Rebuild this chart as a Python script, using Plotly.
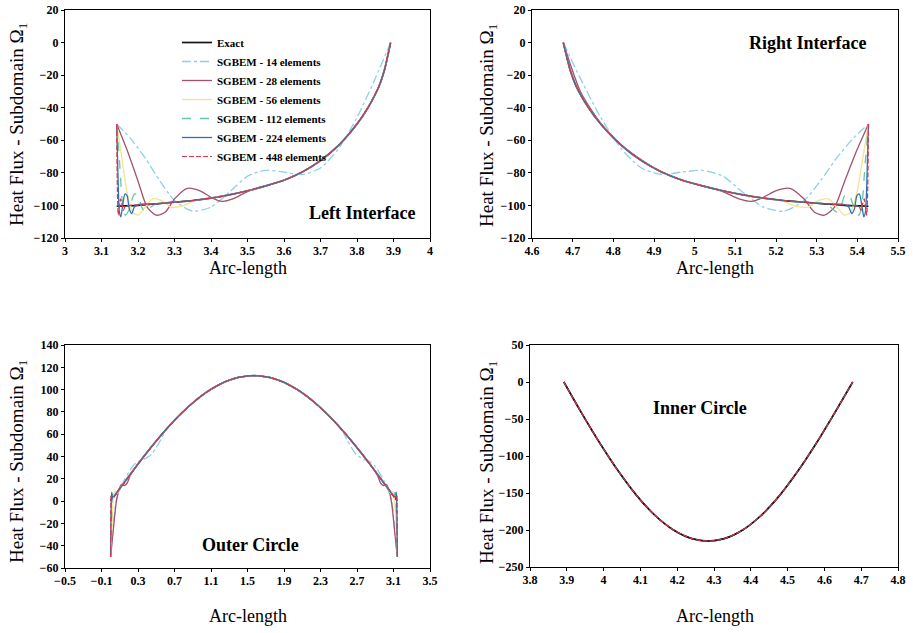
import plotly.graph_objects as go

W, H = 913, 633

# ---------------- DATA ----------------
NAMES = ["Exact", "SGBEM - 14 elements", "SGBEM - 28 elements", "SGBEM - 56 elements",
         "SGBEM - 112 elements", "SGBEM - 224 elements", "SGBEM - 448 elements"]

# Left interface
L_tail_x = [3.55, 3.6, 3.65, 3.7, 3.75, 3.8, 3.83, 3.86, 3.875, 3.892]
L_tail_y = [-88, -84.5, -79.5, -72.5, -63, -50, -40, -27, -17, 0]
L_exact_x = [3.1416, 3.2, 3.25, 3.3, 3.35, 3.4, 3.45, 3.5]
L_exact_y = [-100.5, -100, -99, -98, -97, -95.5, -93.5, -91]
L14_x = [3.1416, 3.18, 3.22, 3.26, 3.3, 3.35, 3.4, 3.45, 3.5, 3.55, 3.6, 3.65, 3.7, 3.75, 3.8, 3.85, 3.892]
L14_y = [-50, -59, -71, -85, -97, -103.5, -101, -92, -82, -78.5, -79.5, -81, -77, -65, -46, -22, 0]
L28_x = [3.1416, 3.17, 3.2, 3.225, 3.25, 3.275, 3.3, 3.335, 3.37, 3.4, 3.43, 3.46, 3.5]
L28_y = [-50, -66, -85, -101, -106, -104, -96, -89.5, -91, -95, -97.5, -96, -91.5]
L56_x = [3.1416, 3.155, 3.17, 3.185, 3.2, 3.22, 3.24, 3.265, 3.29, 3.32, 3.35, 3.4, 3.45, 3.5]
L56_y = [-50, -70, -92, -104, -106, -101, -96, -97, -101, -100.5, -97.5, -95.5, -93.5, -91]
L112_x = [3.1416, 3.15, 3.158, 3.165, 3.175, 3.19, 3.2, 3.21, 3.22, 3.235, 3.25, 3.3, 3.35, 3.4, 3.45, 3.5]
L112_y = [-50, -75, -100, -106, -103, -93, -94, -101, -104, -101, -99, -98, -97, -95.5, -93.5, -91]
L224_x = [3.1416, 3.145, 3.149, 3.153, 3.158, 3.164, 3.17, 3.176, 3.183, 3.19, 3.2, 3.25, 3.3, 3.35, 3.4, 3.45, 3.5]
L224_y = [-50, -80, -104, -107, -100, -93, -94, -102, -105, -101, -99.5, -99, -98, -97, -95.5, -93.5, -91]
L448_x = [3.1416, 3.1435, 3.146, 3.149, 3.152, 3.156, 3.16, 3.165, 3.18, 3.25, 3.3, 3.35, 3.4, 3.45, 3.5]
L448_y = [-50, -90, -106, -101, -96, -99, -103, -100.5, -100, -99, -98, -97, -95.5, -93.5, -91]

# Right interface
R_head_x = [4.677, 4.694, 4.709, 4.739, 4.769, 4.819, 4.869, 4.919, 4.969, 5.019]
R_head_y = [0, -17, -27, -40, -50, -63, -72.5, -79.5, -84.5, -88]
R_exact_x = [5.069, 5.119, 5.169, 5.219, 5.269, 5.319, 5.369, 5.4274]
R_exact_y = [-91, -93.5, -95.5, -97, -98, -99, -100, -100.5]
R14_x = [4.677, 4.719, 4.769, 4.819, 4.869, 4.919, 4.969, 5.019, 5.069, 5.119, 5.169, 5.219, 5.269, 5.309, 5.349, 5.389, 5.4274]
R14_y = [0, -22, -46, -65, -77, -81, -79.5, -78.5, -82, -92, -101, -103.5, -97, -85, -71, -59, -50]
R28_x = [4.677, 4.719, 4.769, 4.819, 4.869, 4.919, 4.969, 5.019, 5.069, 5.109, 5.139, 5.169, 5.199, 5.234,
         5.269, 5.294, 5.319, 5.344, 5.369, 5.399, 5.4274]
R28_y = [0, -30, -49.5, -62.5, -72, -79.5, -84.5, -88, -91.5, -96, -97.5, -95, -91, -89.5,
         -96, -104, -106, -101, -85, -66, -50]
R56_x = [5.069, 5.119, 5.169, 5.219, 5.249, 5.279, 5.304, 5.329, 5.349, 5.369, 5.384, 5.399, 5.414, 5.4274]
R56_y = [-91, -93.5, -95.5, -97.5, -100.5, -101, -97, -96, -101, -106, -104, -92, -70, -50]
R112_x = [5.069, 5.119, 5.169, 5.219, 5.269, 5.319, 5.334, 5.349, 5.359, 5.369, 5.379, 5.394, 5.404, 5.411, 5.419, 5.4274]
R112_y = [-91, -93.5, -95.5, -97, -98, -99, -101, -104, -101, -94, -93, -103, -106, -100, -75, -50]
R224_x = [5.069, 5.119, 5.169, 5.219, 5.269, 5.319, 5.369, 5.379, 5.386, 5.393, 5.399, 5.405, 5.411, 5.416, 5.42, 5.424, 5.4274]
R224_y = [-91, -93.5, -95.5, -97, -98, -99, -99.5, -101, -105, -102, -94, -93, -100, -107, -104, -80, -50]
R448_x = [5.069, 5.119, 5.169, 5.219, 5.269, 5.319, 5.389, 5.404, 5.409, 5.413, 5.417, 5.42, 5.423, 5.4255, 5.4274]
R448_y = [-91, -93.5, -95.5, -97, -98, -99, -100, -100.5, -103, -99, -96, -101, -106, -90, -50]

# Outer circle
O_mid_x = [0.7, 0.8, 0.9, 1.0, 1.1, 1.2, 1.3, 1.4, 1.5, 1.57, 1.64, 1.74, 1.84, 1.94, 2.04, 2.14, 2.24, 2.34, 2.44]
O_mid_y = [72.5, 80.7, 88.1, 94.7, 100.3, 104.9, 108.4, 110.9, 112.2, 112.5, 112.2, 110.9, 108.4, 104.9, 100.3, 94.7, 88.1, 80.7, 72.5]
O_exact_hx = [0, 0.02, 0.1, 0.2, 0.3, 0.4, 0.5, 0.6]
O_exact_hy = [0, 2.3, 11.2, 22.3, 33.2, 43.8, 53.9, 63.5]
O_exact_tx = [2.54, 2.64, 2.74, 2.84, 2.94, 3.04, 3.12, 3.1416]
O_exact_ty = [63.5, 53.9, 43.8, 33.2, 22.3, 11.2, 2.3, 0]
O14_hx = [0.0, 0.03, 0.06, 0.1, 0.15, 0.2, 0.25, 0.3, 0.35, 0.4, 0.45, 0.5, 0.55, 0.6]
O14_hy = [-50, -22, 0, 10, 19, 26, 32, 35.5, 37, 39, 42, 48, 55, 63]
O14_tx = [2.54, 2.59, 2.64, 2.69, 2.74, 2.79, 2.84, 2.89, 2.94, 2.99, 3.04, 3.08, 3.11, 3.1416]
O14_ty = [63, 55, 48, 42, 39, 37, 35.5, 32, 26, 19, 10, 0, -22, -50]
O28_hx = [0.0, 0.03, 0.06, 0.09, 0.12, 0.15, 0.18, 0.21, 0.25, 0.3, 0.4, 0.5, 0.6]
O28_hy = [-50, -25, -2, 10, 15, 14, 16, 22, 28, 33.5, 44, 54, 63.5]
O28_tx = [2.54, 2.64, 2.74, 2.84, 2.89, 2.93, 2.96, 2.99, 3.02, 3.05, 3.08, 3.11, 3.1416]
O28_ty = [63.5, 54, 44, 33.5, 28, 22, 16, 14, 15, 10, -2, -25, -50]
O56_hx = [0, 0.015, 0.03, 0.05, 0.07, 0.1, 0.13, 0.16, 0.2, 0.3, 0.4, 0.5, 0.6]
O56_hy = [-50, -20, 2, 9, 7, 11, 15, 18, 22.5, 33.2, 43.8, 53.9, 63.5]
O56_tx = [2.54, 2.64, 2.74, 2.84, 2.94, 2.98, 3.01, 3.04, 3.07, 3.09, 3.11, 3.127, 3.1416]
O56_ty = [63.5, 53.9, 43.8, 33.2, 22.5, 18, 15, 11, 7, 9, 2, -20, -50]
O112_hx = [0, 0.008, 0.016, 0.025, 0.035, 0.05, 0.07, 0.1, 0.2, 0.3, 0.4, 0.5, 0.6]
O112_hy = [-50, -20, 0, 8, 4, 6, 8, 11, 22.3, 33.2, 43.8, 53.9, 63.5]
O112_tx = [2.54, 2.64, 2.74, 2.84, 2.94, 3.04, 3.07, 3.09, 3.107, 3.117, 3.126, 3.134, 3.1416]
O112_ty = [63.5, 53.9, 43.8, 33.2, 22.3, 11, 8, 6, 4, 8, 0, -20, -50]
O224_hx = [0, 0.004, 0.008, 0.013, 0.018, 0.025, 0.035, 0.05, 0.1, 0.2, 0.3, 0.4, 0.5, 0.6]
O224_hy = [-50, -15, 3, 8, 3, 4, 4, 5.6, 11.2, 22.3, 33.2, 43.8, 53.9, 63.5]
O224_tx = [2.54, 2.64, 2.74, 2.84, 2.94, 3.04, 3.092, 3.107, 3.117, 3.124, 3.129, 3.134, 3.138, 3.1416]
O224_ty = [63.5, 53.9, 43.8, 33.2, 22.3, 11.2, 5.6, 4, 4, 3, 8, 3, -15, -50]
O448_hx = [0, 0.002, 0.004, 0.007, 0.01, 0.015, 0.025, 0.1, 0.2, 0.3, 0.4, 0.5, 0.6]
O448_hy = [-50, -10, 5, 1, 2, 2, 2.8, 11.2, 22.3, 33.2, 43.8, 53.9, 63.5]
O448_tx = [2.54, 2.64, 2.74, 2.84, 2.94, 3.04, 3.117, 3.127, 3.132, 3.135, 3.138, 3.1396, 3.1416]
O448_ty = [63.5, 53.9, 43.8, 33.2, 22.3, 11.2, 2.8, 2, 2, 1, 5, -10, -50]

# Inner circle (all solutions coincide)
I_x = [3.892, 3.94, 3.99, 4.04, 4.09, 4.14, 4.19, 4.24, 4.284, 4.328, 4.378, 4.428, 4.478, 4.528, 4.578, 4.628, 4.677]
I_y = [0, -41.7, -82.8, -120.4, -153.5, -180.4, -200, -211.7, -215, -211.7, -200, -180.4, -153.5, -120.4, -82.8, -41.7, 0]

# ---------------- SERIES PER PANEL ----------------
left = [
    (L_exact_x + L_tail_x, L_exact_y + L_tail_y),
    (L14_x, L14_y),
    (L28_x + L_tail_x, L28_y + L_tail_y),
    (L56_x + L_tail_x, L56_y + L_tail_y),
    (L112_x + L_tail_x, L112_y + L_tail_y),
    (L224_x + L_tail_x, L224_y + L_tail_y),
    (L448_x + L_tail_x, L448_y + L_tail_y),
]
right = [
    (R_head_x + R_exact_x, R_head_y + R_exact_y),
    (R14_x, R14_y),
    (R28_x, R28_y),
    (R_head_x + R56_x, R_head_y + R56_y),
    (R_head_x + R112_x, R_head_y + R112_y),
    (R_head_x + R224_x, R_head_y + R224_y),
    (R_head_x + R448_x, R_head_y + R448_y),
]
outer = [
    (O_exact_hx + O_mid_x + O_exact_tx, O_exact_hy + O_mid_y + O_exact_ty),
    (O14_hx + O_mid_x + O14_tx, O14_hy + O_mid_y + O14_ty),
    (O28_hx + O_mid_x + O28_tx, O28_hy + O_mid_y + O28_ty),
    (O56_hx + O_mid_x + O56_tx, O56_hy + O_mid_y + O56_ty),
    (O112_hx + O_mid_x + O112_tx, O112_hy + O_mid_y + O112_ty),
    (O224_hx + O_mid_x + O224_tx, O224_hy + O_mid_y + O224_ty),
    (O448_hx + O_mid_x + O448_tx, O448_hy + O_mid_y + O448_ty),
]
inner = [(I_x, I_y)] * 7

STYLES = [
    dict(color="#151515", width=1.7, dash="solid"),
    dict(color="#8fd0e8", width=1.3, dash="dashdot"),
    dict(color="#a5506f", width=1.3, dash="solid"),
    dict(color="#f2e58e", width=1.3, dash="solid"),
    dict(color="#6cc4a2", width=1.3, dash="dash"),
    dict(color="#2f6fb6", width=1.3, dash="solid"),
    dict(color="#d2384a", width=1.2, dash="5px,2px"),
]

# drawing order per panel (legend order unchanged); in the inner circle the exact curve sits on top
ORDER = {1: [0, 1, 2, 3, 4, 5, 6], 2: [0, 1, 2, 3, 4, 5, 6], 3: [0, 1, 2, 3, 4, 5, 6], 4: [1, 2, 3, 4, 5, 0, 6]}

fig = go.Figure()
panels = [left, right, outer, inner]
for k, series in enumerate(panels, start=1):
    xa = "x" if k == 1 else f"x{k}"
    ya = "y" if k == 1 else f"y{k}"
    for i in ORDER[k]:
        xs, ys = series[i]
        fig.add_trace(go.Scatter(
            x=xs, y=ys, mode="lines", name=NAMES[i],
            line=dict(shape="spline", smoothing=0.7, **STYLES[i]),
            xaxis=xa, yaxis=ya, showlegend=(k == 1), hoverinfo="skip"))

TICKFONT = dict(family="Liberation Serif", size=12, color="black", weight="bold")


def px_x(p):
    return p / W


def px_y(p):
    return 1 - p / H


def axis(dom, rng, tick0, dtick, anchor, standoff=0):
    return dict(domain=dom, range=rng, tick0=tick0, dtick=dtick, anchor=anchor,
                showline=True, mirror=True, linecolor="black", linewidth=1.4,
                ticks="outside", ticklen=3, tickwidth=1.2, tickcolor="black",
                ticklabelstandoff=standoff,
                showgrid=False, zeroline=False, tickfont=TICKFONT, automargin=False)


fig.update_layout(
    width=W, height=H, margin=dict(l=0, r=0, t=0, b=0, pad=0, autoexpand=False),
    paper_bgcolor="white", plot_bgcolor="white",
    font=dict(family="Liberation Serif", color="black"),
    xaxis=axis([px_x(65), px_x(430)], [3, 4], 3, 0.1, "y", -2),
    yaxis=axis([px_y(238), px_y(10)], [-120, 20], -120, 20, "x"),
    xaxis2=axis([px_x(532), px_x(898)], [4.6, 5.5], 4.6, 0.1, "y2", -2),
    yaxis2=axis([px_y(238), px_y(10)], [-120, 20], -120, 20, "x2"),
    xaxis3=axis([px_x(65), px_x(430)], [-0.5, 3.5], -0.5, 0.4, "y3", -2),
    yaxis3=axis([px_y(568), px_y(345)], [-60, 140], -60, 20, "x3"),
    xaxis4=axis([px_x(530), px_x(898)], [3.8, 4.8], 3.8, 0.1, "y4", -2),
    yaxis4=axis([px_y(567), px_y(345)], [-250, 50], -250, 50, "x4"),
    showlegend=True,
    legend=dict(x=px_x(177), y=px_y(28), xanchor="left", yanchor="top",
                bgcolor="rgba(0,0,0,0)", tracegroupgap=0,
                font=dict(family="Liberation Serif", size=11, color="black", weight="bold")),
)

ann = []
for (cx, cy, txt) in [(362, 213, "Left Interface"), (807, 43, "Right Interface"),
                      (250, 545, "Outer Circle"), (700, 408, "Inner Circle")]:
    ann.append(dict(x=px_x(cx), y=px_y(cy), xref="paper", yref="paper", text=txt, showarrow=False,
                    font=dict(family="Liberation Serif", size=18, color="black", weight="bold"),
                    xanchor="center", yanchor="middle"))
for (cx, cy) in [(248, 268), (715, 268), (248, 616), (715, 616)]:
    ann.append(dict(x=px_x(cx), y=px_y(cy), xref="paper", yref="paper", text="Arc-length",
                    showarrow=False, borderpad=0,
                    font=dict(family="Liberation Serif", size=18, color="black"),
                    xanchor="center", yanchor="middle"))
for (cx, cy) in [(18, 125), (488, 125), (18, 462), (488, 462)]:
    ann.append(dict(x=px_x(cx), y=px_y(cy), xref="paper", yref="paper",
                    text="Heat Flux - Subdomain Ω<sub>1</sub>", textangle=-90,
                    showarrow=False, font=dict(family="Liberation Serif", size=19, color="black"),
                    xanchor="center", yanchor="middle"))
fig.update_layout(annotations=ann)

fig.write_html("out.html", config={"displayModeBar": False},
               post_script="document.body.style.margin='0px';")
